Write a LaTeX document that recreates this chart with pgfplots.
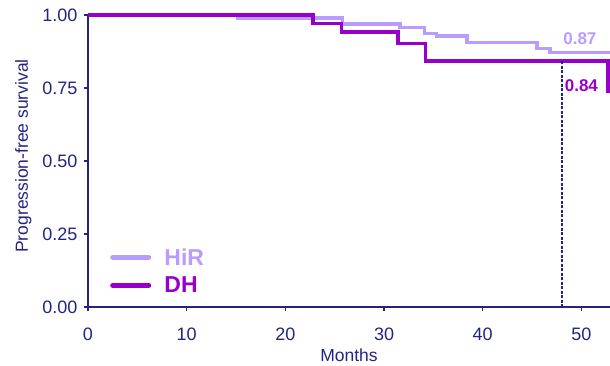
\documentclass[border=0pt]{standalone}
\usepackage{fontspec}
\setmainfont{Liberation Sans}
\usepackage{pgfplots}
\pgfplotsset{compat=1.18}

\definecolor{navy}{RGB}{35,35,130}
\definecolor{hir}{RGB}{186,156,255}
\definecolor{dh}{RGB}{150,0,200}

\begin{document}
\begin{tikzpicture}
\begin{axis}[
  scale only axis,
  width=522pt, height=292pt,
  xmin=0, xmax=52.9, ymin=0, ymax=1,
  axis x line*=bottom, axis y line*=left,
  axis line style={navy, line width=1.5pt, -},
  tick style={navy, line width=1.5pt},
  tick align=outside,
  major tick length=4pt,
  xtick={0,10,20,30,40,50},
  ytick={0,0.25,0.5,0.75,1},
  /pgf/number format/assume math mode=true,
  ticklabel style={font=\fontsize{18}{20}\selectfont, text=navy},
  xticklabel style={yshift=-13pt},
  yticklabel style={xshift=-3pt, /pgf/number format/.cd, fixed, fixed zerofill, precision=2},
  xlabel={Months},
  ylabel={Progression-free survival},
  label style={font=\fontsize{17.5}{19}\selectfont, text=navy},
  xlabel style={yshift=-2pt},
  ylabel style={yshift=4pt, xshift=5pt},
  clip=false,
  legend style={draw=none, fill=none, at={(axis cs:1.8,0.215)}, anchor=north west,
    row sep=6pt, font=\fontsize{23}{25}\selectfont\bfseries,
    /tikz/column 1/.style={column sep=10pt}},
  legend cell align=left,
  legend image code/.code={
    \draw[line width=5pt, line cap=round, #1] (2pt,0pt) -- (38pt,0pt);
    \path (0pt,0pt) -- (40pt,0pt);},
]
% HiR arm
\addplot[const plot, hir, line width=3.5pt] coordinates {
  (0,1) (15.2,0.99) (25.8,0.969) (31.6,0.958) (34.1,0.937) (35.3,0.928)
  (38.4,0.905) (45.5,0.886) (46.8,0.871) (52.9,0.871)
};
\addlegendentry{\textcolor{hir}{HiR}}
% DH arm
\addplot[const plot, dh, line width=3.5pt] coordinates {
  (0,1) (22.8,0.9715) (25.7,0.941) (31.4,0.903) (34.2,0.842) (52.7,0.842)
  (52.7,0.74) (52.9,0.74)
};
\addlegendentry{\textcolor{dh}{DH}}
% 48-month landmark
\addplot[navy, line width=1.5pt, dash pattern=on 3pt off 1.5pt, forget plot]
  coordinates {(48.05,0) (48.05,0.842)};
\node[text=hir, font=\fontsize{17}{19}\selectfont\bfseries] at (axis cs:49.85,0.918) {0.87};
\node[text=dh, font=\fontsize{17}{19}\selectfont\bfseries] at (axis cs:50.0,0.757) {0.84};
\coordinate (bl) at (rel axis cs:0,0);
\coordinate (tr) at (rel axis cs:1,1);
\end{axis}
\pgfresetboundingbox
\path ([xshift=-88pt,yshift=-58pt]bl) rectangle ([yshift=15pt]tr);
\end{tikzpicture}
\end{document}
